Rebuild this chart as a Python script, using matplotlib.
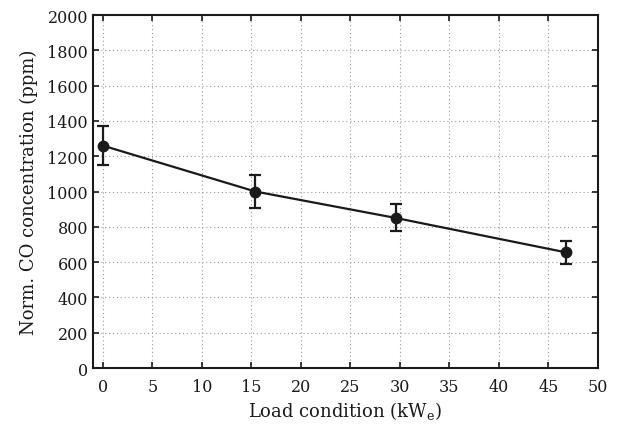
import matplotlib
matplotlib.use("Agg")
import matplotlib.pyplot as plt

load = [0.0, 15.4, 29.6, 46.8]
co = [1260, 1000, 850, 655]
err_low = [110, 92, 75, 65]
err_high = [110, 92, 80, 63]
xticks = [0, 5, 10, 15, 20, 25, 30, 35, 40, 45, 50]
yticks = [0, 200, 400, 600, 800, 1000, 1200, 1400, 1600, 1800, 2000]

plt.rcParams['font.family'] = ['DejaVu Serif']
plt.rcParams['mathtext.fontset'] = 'dejavuserif'

fig = plt.figure(figsize=(6.17, 4.27), dpi=100)
ax = fig.add_axes([0.1507, 0.1358, 0.8183, 0.8267])

ax.errorbar(load, co, yerr=[err_low, err_high], color='#1a1a1a', marker='o',
            markersize=7.5, linewidth=1.6, elinewidth=1.6, capsize=4, capthick=1.6,
            zorder=3)

ax.set_xlim(-1, 50)
ax.set_ylim(0, 2000)
ax.set_xticks(xticks)
ax.set_yticks(yticks)
ax.grid(True, linestyle=(0, (1, 2.5)), color='#999999', linewidth=0.8)
ax.tick_params(direction='in', top=True, right=True, length=4, width=1.2,
               labelsize=11.5, colors='#1a1a1a')
ax.tick_params(axis='x', pad=7)
for s in ax.spines.values():
    s.set_linewidth(1.5)
    s.set_color('#1a1a1a')

ax.set_xlabel(r'Load condition (kW$_\mathregular{e}$)', fontsize=13, labelpad=3, color='#1a1a1a')
ax.set_ylabel('Norm. CO concentration (ppm)', fontsize=13, labelpad=7, color='#1a1a1a')

fig.savefig('out.png', dpi=100)
